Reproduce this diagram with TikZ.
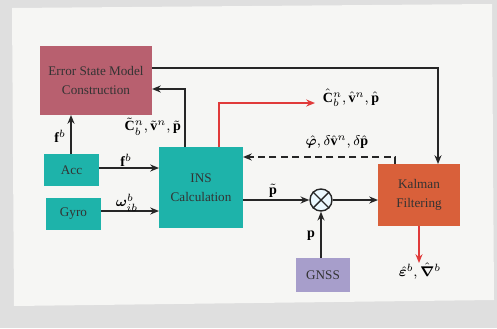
\documentclass[tikz,border=0pt]{standalone}
\usepackage{amsmath}
\usepackage{bm}
\usepackage{fontspec}
\setmainfont{Liberation Serif}
\usetikzlibrary{arrows.meta}
\definecolor{esm}{HTML}{B8606F}
\definecolor{tealb}{HTML}{1EB3AA}
\definecolor{kal}{HTML}{D9603A}
\definecolor{gnss}{HTML}{A79ECB}
\definecolor{redl}{HTML}{E03A3A}
\definecolor{pagebg}{HTML}{F6F6F4}
\begin{document}
\begin{tikzpicture}[x=0.02cm,y=-0.02cm,
  blk/.style={draw=none,align=center,text=black!80,font=\fontsize{7.5}{11}\selectfont,inner sep=0pt},
  conn/.style={draw=black!85,line width=0.8pt,-{Stealth[length=5pt,width=4pt]}},
  lbl/.style={font=\fontsize{8}{9}\selectfont,inner sep=1pt}]
\fill[gray!25] (0,0) rectangle (497,328);
\fill[pagebg] (12,8) -- (492,4) -- (494,300) -- (14,306) -- cycle;
% boxes
\path[fill=esm] (40,46) rectangle (152,115);
\node[blk] (esmt) at (96,80.5) {Error State Model\\Construction};
\path[fill=tealb] (44,154) rectangle (99,186);
\node[blk] (acc) at (71.5,170) {Acc};
\path[fill=tealb] (46,198) rectangle (101,230);
\node[blk] (gyro) at (73.5,214) {Gyro};
\path[fill=tealb] (159,147) rectangle (243,228);
\node[blk] (ins) at (201,187.5) {INS\\Calculation};
\path[fill=kal] (378,164) rectangle (460,226);
\node[blk] (kal) at (419,195) {Kalman\\Filtering};
\path[fill=gnss] (296,258) rectangle (350,292);
\node[blk] (gnss) at (323,275) {GNSS};
\node[circle,draw=black!85,line width=0.8pt,fill=cyan!8,inner sep=0pt,minimum size=0.44cm] (m) at (321,200) {};
\draw[black!85,line width=0.8pt] (m.north west) -- (m.south east) (m.north east) -- (m.south west);
% coordinates for box edges
\coordinate (esmTopR) at (152,68);
\coordinate (esmMid) at (152,89);
\coordinate (esmBot) at (71,115);
\coordinate (accTop) at (71,154);
\coordinate (accR) at (99,168);
\coordinate (insLaccin) at (159,168);
\coordinate (gyroR) at (101,211);
\coordinate (insLgyroin) at (159,211);
\coordinate (insTop1) at (185,147);
\coordinate (insTop2) at (219,147);
\coordinate (insR) at (243,200);
\coordinate (insRd) at (243,157);
\coordinate (kalL) at (378,200);
\coordinate (kalTop1) at (438,164);
\coordinate (kalTop2) at (395,164);
\coordinate (kalBot) at (419,226);
\coordinate (out1) at (315,103);
\coordinate (out2) at (419,263);
\coordinate (gnssTop) at (321,258);
% connectors
\draw[conn] (esmTopR) -- (438,68) -- (kalTop1);
\draw[conn] (insTop1) -- (185,89) -- (esmMid);
\draw[conn] (accTop) -- (esmBot);
\draw[conn] (accR) -- (insLaccin);
\draw[conn] (gyroR) -- (insLgyroin);
\draw[conn] (insR) -- (m);
\draw[conn] (m) -- (kalL);
\draw[conn] (gnssTop) -- (m);
\draw[conn,draw=redl,color=redl] (insTop2) -- (219,103) -- (out1);
\draw[conn,draw=redl,color=redl] (kalBot) -- (out2);
\draw[conn,dash pattern=on 4pt off 2.5pt] (kalTop2) -- (395,157) -- (insRd);
% labels
\node[lbl,anchor=east] (l1) at (183,127) {$\tilde{\mathbf{C}}_b^n,\tilde{\mathbf{v}}^n,\tilde{\mathbf{p}}$};
\node[lbl] (l2) at (351,98) {$\hat{\mathbf{C}}_b^n,\hat{\mathbf{v}}^n,\hat{\mathbf{p}}$};
\node[lbl] (l3) at (337,142) {$\hat{\bm{\varphi}},\delta\hat{\mathbf{v}}^n,\delta\hat{\mathbf{p}}$};
\node[lbl] (l4) at (60,136) {$\mathbf{f}^b$};
\node[lbl] (l5) at (126,160) {$\mathbf{f}^b$};
\node[lbl] (l6) at (127,203) {$\bm{\omega}_{ib}^b$};
\node[lbl] (l7) at (273,191) {$\tilde{\mathbf{p}}$};
\node[lbl] (l8) at (311,236) {$\mathbf{p}$};
\node[lbl] (l9) at (420,271) {$\hat{\bm{\varepsilon}}^b,\hat{\bm{\nabla}}^b$};
\end{tikzpicture}
\end{document}
